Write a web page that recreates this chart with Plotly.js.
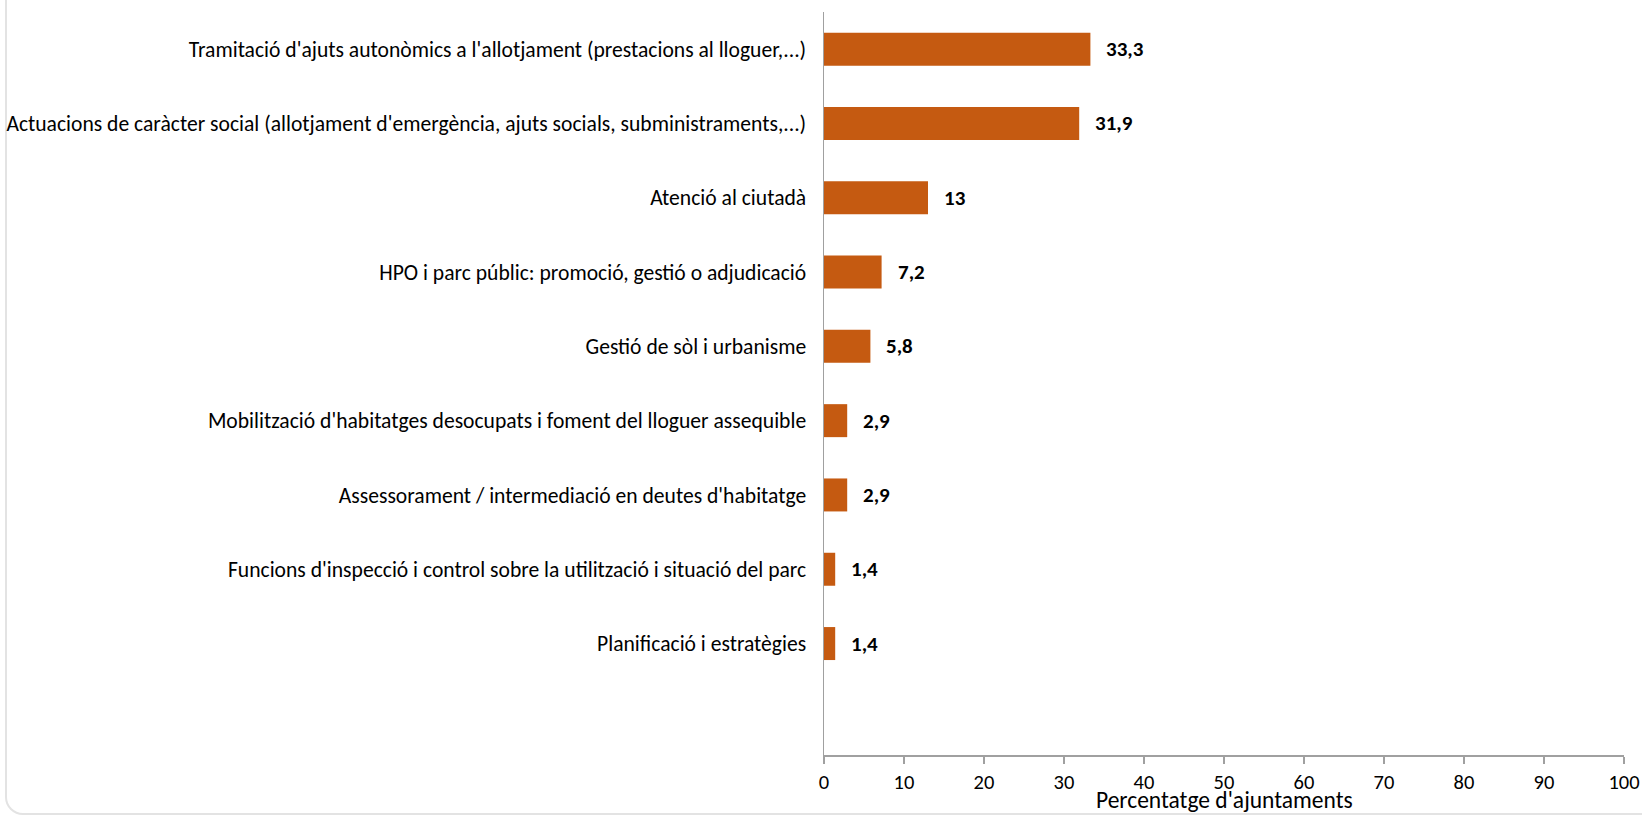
<!DOCTYPE html>
<html>
<head>
<meta charset="utf-8">
<script src="https://cdn.plot.ly/plotly-3.0.1.min.js"></script>
<style>
  html, body { margin: 0; padding: 0; background: #fff; overflow: hidden; }
  #frame { position: absolute; left: 5px; top: -30px; width: 1700px; height: 845px;
           border: 2px solid #E3E3E3; border-radius: 18px; box-sizing: border-box; pointer-events: none; }
  #chart { position: absolute; left: 0; top: 0; width: 1642px; height: 815px; }
</style>
</head>
<body>
<div id="frame"></div>
<div id="chart"></div>
<script>
const categories = [
  "Tramitació d'ajuts autonòmics a l'allotjament (prestacions al lloguer,...)",
  "Actuacions de caràcter social (allotjament d'emergència, ajuts socials, subministraments,...)",
  "Atenció al ciutadà",
  "HPO i parc públic: promoció, gestió o adjudicació",
  "Gestió de sòl i urbanisme",
  "Mobilització d'habitatges desocupats i foment del lloguer assequible",
  "Assessorament / intermediació en deutes d'habitatge",
  "Funcions d'inspecció i control sobre la utilització i situació del parc",
  "Planificació i estratègies"
];
const values = [33.3, 31.9, 13, 7.2, 5.8, 2.9, 2.9, 1.4, 1.4];
const xTicks = [0, 10, 20, 30, 40, 50, 60, 70, 80, 90, 100];
const xTitle = "Percentatge d'ajuntaments";

const FONT = "Carlito, 'Noto Sans', sans-serif";
const AXIS_GREY = "#A0A0A0";

const trace = {
  type: 'bar',
  orientation: 'h',
  x: values,
  y: categories,
  marker: { color: '#C55A11', line: { width: 0 } },
  hoverinfo: 'x+y'
};

const annotations = values.map((v, i) => ({
  x: v, y: categories[i], xref: 'x', yref: 'y',
  text: '<b>' + String(v).replace('.', ',') + '</b>',
  showarrow: false, xanchor: 'left', yanchor: 'middle', xshift: 14,
  font: { family: FONT, size: 21, color: '#000' }
}));

// x-axis title drawn as an annotation so it can sit as low as in the reference
annotations.push({
  xref: 'paper', yref: 'paper', x: 0.5, y: 0,
  xanchor: 'center', yanchor: 'middle', yshift: -45,
  text: xTitle, showarrow: false,
  font: { family: FONT, size: 23.5, color: '#000' }
});

const layout = {
  width: 1642, height: 815,
  margin: { l: 824, r: 18, t: 12, b: 60, pad: 0 },
  paper_bgcolor: 'rgba(0,0,0,0)',
  plot_bgcolor: 'rgba(0,0,0,0)',
  showlegend: false,
  bargap: 0.556,
  font: { family: FONT, size: 21, color: '#000' },
  xaxis: {
    range: [0, 100], tickvals: xTicks, ticktext: xTicks.map(String),
    showgrid: false, zeroline: false,
    showline: true, linecolor: AXIS_GREY, linewidth: 1.5,
    ticks: 'outside', ticklen: 7, tickcolor: AXIS_GREY, tickwidth: 1.5,
    tickfont: { family: FONT, size: 20.5, color: '#000' },
    ticklabelstandoff: 1,
    fixedrange: true
  },
  yaxis: {
    type: 'category',
    range: [9.5, -0.5],
    showgrid: false, zeroline: false,
    showline: true, linecolor: AXIS_GREY, linewidth: 1.5,
    ticks: '', ticklabelstandoff: 12,
    tickfont: { family: FONT, size: 21.6, color: '#000' },
    fixedrange: true
  },
  annotations: annotations
};

Plotly.newPlot('chart', [trace], layout, { displayModeBar: false, staticPlot: true });
</script>
</body>
</html>
